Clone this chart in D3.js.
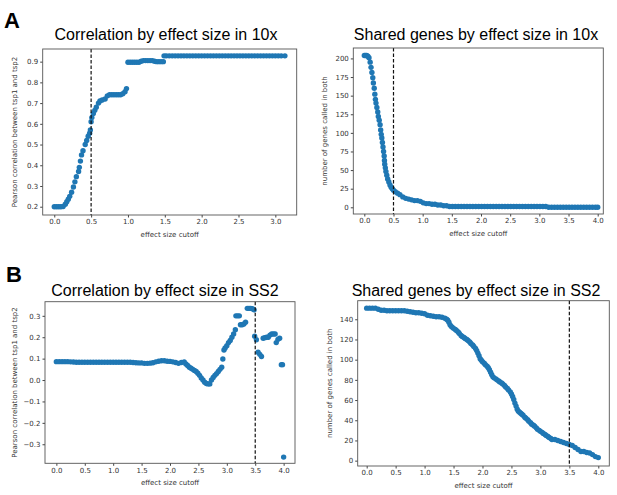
<!DOCTYPE html>
<html>
<head>
<meta charset="utf-8">
<script src="https://cdn.jsdelivr.net/npm/d3@7"></script>
<style>
  body { margin: 0; background: #fff; }
  svg { display: block; }
</style>
</head>
<body>
<svg id="fig" width="617" height="495"></svg>
<script>
// effect size cutoff scatter panels, 10x (A) and SS2 (B)

var corr10xCutoff = [0.00, 0.03, 0.06, 0.09, 0.12, 0.15, 0.17, 0.19, 0.21, 0.235, 0.26, 0.28, 0.30, 0.33,
  0.34, 0.355, 0.37, 0.39, 0.42, 0.44, 0.46, 0.48, 0.49, 0.50, 0.51, 0.53, 0.55, 0.57, 0.60, 0.62, 0.65,
  0.69, 0.72, 0.75, 0.78, 0.81, 0.84, 0.87, 0.90, 0.93, 0.96, 0.98, 1.00, 1.03, 1.06, 1.09, 1.12, 1.15,
  1.18, 1.21, 1.24, 1.27, 1.30, 1.33, 1.36, 1.39, 1.42, 1.45, 1.48, 1.49, 1.52, 1.56, 1.60, 1.64, 1.68,
  1.72, 1.76, 1.80, 1.84, 1.88, 1.92, 1.96, 2.00, 2.04, 2.08, 2.12, 2.16, 2.20, 2.24, 2.28, 2.32, 2.36,
  2.40, 2.44, 2.48, 2.52, 2.56, 2.60, 2.64, 2.68, 2.72, 2.76, 2.80, 2.84, 2.88, 2.92, 2.96, 3.00, 3.04,
  3.08, 3.13];
var corr10xValue = [0.200, 0.200, 0.200, 0.200, 0.201, 0.212, 0.224, 0.236, 0.250, 0.270, 0.295, 0.320, 0.345, 0.370,
  0.390, 0.420, 0.450, 0.470, 0.500, 0.520, 0.540, 0.555, 0.570, 0.610, 0.630, 0.650, 0.665, 0.680, 0.700, 0.710, 0.715,
  0.720, 0.735, 0.740, 0.740, 0.740, 0.740, 0.740, 0.740, 0.745, 0.755, 0.770, 0.897, 0.897, 0.897, 0.897, 0.897, 0.897,
  0.902, 0.905, 0.905, 0.905, 0.905, 0.905, 0.902, 0.900, 0.900, 0.900, 0.900, 0.928, 0.928, 0.928, 0.928, 0.928, 0.928,
  0.928, 0.928, 0.928, 0.928, 0.928, 0.928, 0.928, 0.928, 0.928, 0.928, 0.928, 0.928, 0.928, 0.928, 0.928, 0.928, 0.928,
  0.928, 0.928, 0.928, 0.928, 0.928, 0.928, 0.928, 0.928, 0.928, 0.928, 0.928, 0.928, 0.928, 0.928, 0.928, 0.928, 0.928,
  0.928, 0.928];

var genes10xCutoff = [0.00, 0.02, 0.04, 0.06, 0.08, 0.10, 0.115, 0.13, 0.145, 0.155, 0.17, 0.18, 0.19, 0.20, 0.215,
  0.23, 0.24, 0.255, 0.27, 0.28, 0.29, 0.30, 0.31, 0.32, 0.33, 0.34, 0.345, 0.35, 0.36, 0.37, 0.385, 0.40, 0.42,
  0.44, 0.46, 0.48, 0.50, 0.53, 0.57, 0.61, 0.66, 0.71, 0.76, 0.81, 0.86, 0.91, 0.96, 1.01, 1.06, 1.11, 1.16,
  1.21, 1.26, 1.31, 1.36, 1.41, 1.46, 1.51, 1.56, 1.61, 1.66, 1.71, 1.76, 1.81, 1.86, 1.91, 1.96, 2.01, 2.06,
  2.11, 2.16, 2.21, 2.26, 2.31, 2.36, 2.41, 2.46, 2.51, 2.56, 2.61, 2.66, 2.71, 2.76, 2.81, 2.86, 2.91, 2.96,
  3.01, 3.06, 3.11, 3.16, 3.21, 3.26, 3.31, 3.36, 3.41, 3.46, 3.51, 3.56, 3.61, 3.66, 3.71, 3.76, 3.81, 3.86,
  3.91, 3.96, 4.00];
var genes10xValue = [204, 204, 204, 203, 201, 195, 188, 181, 174, 167, 160, 152, 145, 140, 134,
  128, 122, 117, 111, 104, 98, 93, 87, 81, 75, 69, 63, 58, 53, 48, 43, 38, 34,
  30, 27, 25, 23, 21, 19, 17, 14, 12, 11, 10, 9, 9, 8, 6, 5, 5, 4,
  4, 3, 3, 2, 2, 1, 1, 1, 1, 1, 1, 1, 1, 1, 1, 1, 1, 1,
  1, 1, 1, 1, 1, 1, 1, 1, 1, 1, 1, 1, 1, 1, 1, 1, 1, 1,
  1, 1, 1, 0, 0, 0, 0, 0, 0, 0, 0, 0, 0, 0, 0, 0, 0, 0,
  0, 0, 0];

var corrSS2Cutoff = [0.00, 0.05, 0.10, 0.15, 0.20, 0.25, 0.30, 0.35, 0.40, 0.45, 0.50, 0.55, 0.60, 0.65, 0.70,
  0.75, 0.80, 0.85, 0.90, 0.95, 1.00, 1.05, 1.10, 1.15, 1.20, 1.25, 1.30, 1.35, 1.40, 1.45, 1.50, 1.55, 1.60,
  1.65, 1.70, 1.75, 1.80, 1.85, 1.90, 1.95, 2.00, 2.05, 2.10, 2.15, 2.20, 2.25, 2.28, 2.31, 2.34, 2.37, 2.40,
  2.43, 2.46, 2.49, 2.52, 2.55, 2.58, 2.61, 2.64, 2.67, 2.70, 2.73, 2.76, 2.79, 2.82, 2.85, 2.88, 2.91, 2.93,
  2.95, 2.97, 3.00, 3.03, 3.06, 3.09, 3.12, 3.15, 3.16, 3.19, 3.22, 3.24, 3.27, 3.30, 3.33, 3.36, 3.39, 3.42,
  3.45, 3.48, 3.49, 3.52, 3.55, 3.58, 3.61, 3.64, 3.67, 3.70, 3.73, 3.76, 3.79, 3.82, 3.85, 3.87, 3.90, 3.93,
  3.96, 3.98, 4.00];
var corrSS2Value = [0.086, 0.086, 0.086, 0.086, 0.086, 0.085, 0.084, 0.083, 0.083, 0.083, 0.083, 0.083, 0.083, 0.083, 0.083,
  0.083, 0.083, 0.083, 0.083, 0.083, 0.083, 0.083, 0.083, 0.083, 0.083, 0.083, 0.083, 0.082, 0.081, 0.080, 0.080, 0.078, 0.078,
  0.079, 0.081, 0.085, 0.088, 0.090, 0.090, 0.088, 0.087, 0.085, 0.082, 0.078, 0.082, 0.084, 0.075, 0.068, 0.060, 0.055, 0.050,
  0.045, 0.040, 0.032, 0.022, 0.010, 0.000, -0.010, -0.016, -0.018, -0.018, 0.000, 0.012, 0.022, 0.030, 0.040, 0.050, 0.060, 0.098,
  0.140, 0.150, 0.160, 0.175, 0.185, 0.200, 0.215, 0.235, 0.300, 0.300, 0.300, 0.258, 0.258, 0.262, 0.270, 0.335, 0.335, 0.335,
  0.333, 0.328, 0.205, 0.188, 0.130, 0.120, 0.110, 0.195, 0.198, 0.200, 0.200, 0.210, 0.215, 0.215, 0.215, 0.175, 0.190, 0.195,
  0.072, 0.072, -0.360];

var genesSS2Cutoff = [0.00, 0.05, 0.10, 0.15, 0.20, 0.25, 0.30, 0.35, 0.40, 0.45, 0.50, 0.55, 0.60, 0.65, 0.70,
  0.75, 0.80, 0.85, 0.90, 0.95, 1.00, 1.05, 1.10, 1.15, 1.20, 1.25, 1.30, 1.35, 1.38, 1.40, 1.42, 1.44, 1.46,
  1.48, 1.50, 1.53, 1.55, 1.58, 1.60, 1.63, 1.65, 1.68, 1.70, 1.73, 1.75, 1.78, 1.80, 1.83, 1.85, 1.88, 1.90,
  1.92, 1.94, 1.96, 1.98, 2.00, 2.03, 2.05, 2.08, 2.10, 2.12, 2.14, 2.16, 2.18, 2.20, 2.23, 2.25, 2.28, 2.30,
  2.33, 2.35, 2.38, 2.40, 2.43, 2.45, 2.48, 2.50, 2.52, 2.54, 2.56, 2.58, 2.60, 2.62, 2.64, 2.66, 2.68, 2.70,
  2.73, 2.75, 2.78, 2.80, 2.83, 2.85, 2.88, 2.90, 2.93, 2.95, 2.98, 3.00, 3.03, 3.05, 3.08, 3.10, 3.13, 3.15,
  3.18, 3.20, 3.25, 3.30, 3.35, 3.40, 3.45, 3.50, 3.55, 3.60, 3.65, 3.70, 3.75, 3.80, 3.85, 3.90, 3.95, 4.00];
var genesSS2Value = [151, 151, 151, 151, 150, 149, 149, 148.5, 148.5, 148.5, 148.5, 148.5, 148.5, 148.5, 148,
  147.5, 147, 146.5, 146.5, 146, 145.5, 144, 143.5, 143, 142.5, 142.5, 142, 141, 140, 139, 137, 134.5, 133,
  132, 131, 130, 129, 127.5, 126, 124, 123, 122, 121, 120, 119, 117.5, 116, 114.5, 113, 111, 109,
  106.5, 104, 101, 99.5, 98, 96.5, 95, 93.5, 92, 90, 87.5, 85, 83, 82, 81, 80, 79, 78,
  77, 76, 74.5, 73, 71.5, 70, 68, 66, 63.5, 60.5, 57, 54, 51, 49, 48, 47, 46, 45,
  43, 42, 40.5, 39, 37.5, 36, 35, 34, 32.5, 31, 30, 29, 28, 27, 26, 25, 24, 23,
  22, 21, 21, 20, 19, 18, 17, 16, 15, 13, 11, 9, 9, 8, 7.5, 6, 4, 3];

var cutoffTicks = [0.0, 0.5, 1.0, 1.5, 2.0, 2.5, 3.0];
var cutoffTicksLong = [0.0, 0.5, 1.0, 1.5, 2.0, 2.5, 3.0, 3.5, 4.0];
var corr10xTicks = [0.2, 0.3, 0.4, 0.5, 0.6, 0.7, 0.8, 0.9];
var genes10xTicks = [0, 25, 50, 75, 100, 125, 150, 175, 200];
var corrSS2Ticks = [-0.3, -0.2, -0.1, 0.0, 0.1, 0.2, 0.3];
var genesSS2Ticks = [0, 20, 40, 60, 80, 100, 120, 140];

var titles = ["Correlation by effect size in 10x", "Shared genes by effect size in 10x",
  "Correlation by effect size in SS2", "Shared genes by effect size in SS2"];
var panelLetters = ["A", "B"];
var xLabel = "effect size cutoff";
var corrLabel = "Pearson correlation between tsp1 and tsp2";
var genesLabel = "number of genes called in both";
var thresholds = [0.5, 0.5, 3.5, 3.5];

var svg = d3.select("#fig");
var dotColor = "#1f77b4",
    tickFont = "'DejaVu Sans', sans-serif",
    titleFont = "'Liberation Sans', Arial, sans-serif";

function drawPanel(p) {
  var x = d3.scaleLinear().domain(p.xDomain).range([p.left, p.right]);
  var y = d3.scaleLinear().domain(p.yDomain).range([p.bottom, p.top]);
  var g = svg.append("g");

  var pts = p.xs.map(function(d, i) { return {x: d, y: p.ys[i]}; });

  g.append("g")
    .selectAll("circle")
    .data(pts)
    .enter().append("circle")
      .attr("cx", function(d) { return x(d.x); })
      .attr("cy", function(d) { return y(d.y); })
      .attr("r", 2.7)
      .attr("fill", dotColor);

  g.append("line")
      .attr("x1", x(p.threshold)).attr("x2", x(p.threshold))
      .attr("y1", p.top).attr("y2", p.bottom)
      .attr("stroke", "#111")
      .attr("stroke-width", 1.2)
      .attr("stroke-dasharray", "3.5,2");

  var xAxis = g.append("g")
      .attr("transform", "translate(0," + p.bottom + ")")
      .call(d3.axisBottom(x).tickValues(p.xTicks).tickFormat(d3.format(".1f")).tickSize(2.5).tickPadding(2));
  var yAxis = g.append("g")
      .attr("transform", "translate(" + p.left + ",0)")
      .call(d3.axisLeft(y).tickValues(p.yTicks).tickFormat(p.yFormat).tickSize(2.5).tickPadding(2));

  [xAxis, yAxis].forEach(function(a) {
    a.select(".domain").remove();
    a.selectAll("line").attr("stroke", "#444");
    a.selectAll("text")
      .attr("fill", "#333")
      .attr("font-family", tickFont)
      .attr("font-size", 7);
  });

  g.append("rect")
      .attr("x", p.left).attr("y", p.top)
      .attr("width", p.right - p.left).attr("height", p.bottom - p.top)
      .attr("fill", "none")
      .attr("stroke", "#555")
      .attr("stroke-width", 0.9);

  g.append("text")
      .attr("x", (p.left + p.right) / 2)
      .attr("y", p.bottom + 22)
      .attr("text-anchor", "middle")
      .attr("font-family", tickFont)
      .attr("font-size", 7)
      .attr("fill", "#333")
      .text(xLabel);

  g.append("text")
      .attr("transform", "translate(" + p.yLabelX + "," + (p.top + p.bottom) / 2 + ") rotate(-90)")
      .attr("text-anchor", "middle")
      .attr("dy", "0.35em")
      .attr("font-family", tickFont)
      .attr("font-size", 7)
      .attr("fill", "#333")
      .text(p.yLabel);

  g.append("text")
      .attr("x", p.titleX)
      .attr("y", p.titleY)
      .attr("text-anchor", "middle")
      .attr("font-family", titleFont)
      .attr("font-size", 16)
      .attr("fill", "#000")
      .text(p.title);
}

drawPanel({
  xs: corr10xCutoff, ys: corr10xValue,
  left: 42.7, right: 296.7, top: 49, bottom: 215,
  xDomain: [-0.157, 3.29], yDomain: [0.16, 0.961],
  xTicks: cutoffTicks, yTicks: corr10xTicks, yFormat: d3.format(".1f"),
  threshold: thresholds[0], yLabel: corrLabel, yLabelX: 15,
  title: titles[0], titleX: 166, titleY: 39.5
});

drawPanel({
  xs: genes10xCutoff, ys: genes10xValue,
  left: 353.3, right: 603.3, top: 48, bottom: 214,
  xDomain: [-0.189, 4.096], yDomain: [-9, 214],
  xTicks: cutoffTicksLong, yTicks: genes10xTicks, yFormat: d3.format("d"),
  threshold: thresholds[1], yLabel: genesLabel, yLabelX: 325,
  title: titles[1], titleX: 476, titleY: 39.5
});

drawPanel({
  xs: corrSS2Cutoff, ys: corrSS2Value,
  left: 45, right: 295, top: 301.7, bottom: 463.3,
  xDomain: [-0.2, 4.2], yDomain: [-0.389, 0.366],
  xTicks: cutoffTicksLong, yTicks: corrSS2Ticks, yFormat: d3.format(".1f"),
  threshold: thresholds[2], yLabel: corrLabel, yLabelX: 15,
  title: titles[2], titleX: 165, titleY: 295.5
});

drawPanel({
  xs: genesSS2Cutoff, ys: genesSS2Value,
  left: 357.7, right: 609.3, top: 300.7, bottom: 466,
  xDomain: [-0.155, 4.19], yDomain: [-5.3, 158.4],
  xTicks: cutoffTicksLong, yTicks: genesSS2Ticks, yFormat: d3.format("d"),
  threshold: thresholds[3], yLabel: genesLabel, yLabelX: 330,
  title: titles[3], titleX: 476, titleY: 295.5
});

svg.selectAll(".letter")
  .data(panelLetters)
  .enter().append("text")
    .attr("class", "letter")
    .attr("x", function(d, i) { return i === 0 ? 4 : 6; })
    .attr("y", function(d, i) { return i === 0 ? 28 : 282; })
    .attr("font-family", titleFont)
    .attr("font-weight", "bold")
    .attr("font-size", 22)
    .text(function(d) { return d; });
</script>
</body>
</html>
